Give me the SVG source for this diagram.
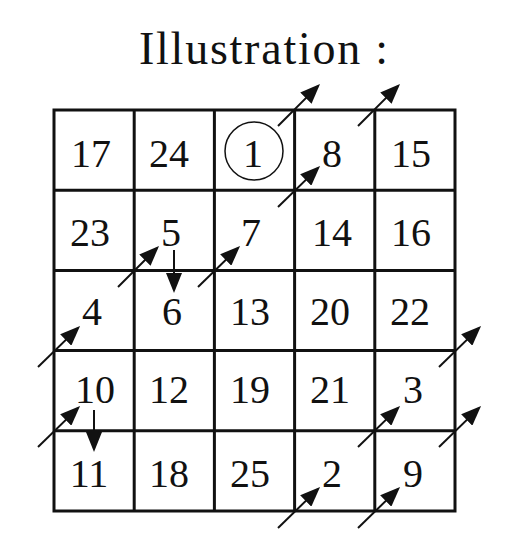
<svg xmlns="http://www.w3.org/2000/svg" width="518" height="556" viewBox="0 0 518 556">
<style>
  .grid { fill: none; stroke: #111; stroke-width: 3; }
  .num { font-family: "Liberation Serif", "Times New Roman", serif; font-size: 40px; fill: #111; text-anchor: middle; }
  .title { font-family: "Liberation Serif", "Times New Roman", serif; font-size: 46px; fill: #111; }
  .arr { stroke: #111; stroke-width: 2; fill: none; marker-end: url(#head); }
  .ring { fill: none; stroke: #111; stroke-width: 1.5; }
</style>
<defs>
  <marker id="head" markerUnits="userSpaceOnUse" markerWidth="20" markerHeight="16" viewBox="0 0 20 16" refX="17" refY="8" orient="auto">
    <path d="M0,0 L20,8 L0,16 z" fill="#111"/>
  </marker>
</defs>
<rect width="518" height="556" fill="#fff"/>
<text class="title" x="139" y="64" textLength="249" lengthAdjust="spacing">Illustration :</text>
<g id="grid">
  <rect class="grid" x="54" y="110" width="401" height="401"/>
  <line class="grid" x1="134.2" y1="110" x2="134.2" y2="511"/>
  <line class="grid" x1="214.4" y1="110" x2="214.4" y2="511"/>
  <line class="grid" x1="294.6" y1="110" x2="294.6" y2="511"/>
  <line class="grid" x1="374.8" y1="110" x2="374.8" y2="511"/>
  <line class="grid" x1="54" y1="190.2" x2="455" y2="190.2"/>
  <line class="grid" x1="54" y1="270.4" x2="455" y2="270.4"/>
  <line class="grid" x1="54" y1="350.6" x2="455" y2="350.6"/>
  <line class="grid" x1="54" y1="430.8" x2="455" y2="430.8"/>
</g>
<g id="row1">
  <g id="n17"><text class="num" x="91" y="167">17</text></g>
  <g id="n24"><text class="num" x="169" y="167">24</text></g>
  <g id="n1"><circle class="ring" cx="254" cy="151" r="29"/><text class="num" x="253" y="167">1</text></g>
  <g id="n8"><text class="num" x="332" y="167">8</text></g>
  <g id="n15"><text class="num" x="411" y="167">15</text></g>
</g>
<g id="row2">
  <g id="n23"><text class="num" x="90" y="246">23</text></g>
  <g id="n5"><text class="num" x="171" y="246">5</text></g>
  <g id="n7"><text class="num" x="251" y="246">7</text></g>
  <g id="n14"><text class="num" x="332" y="246">14</text></g>
  <g id="n16"><text class="num" x="411" y="246">16</text></g>
</g>
<g id="row3">
  <g id="n4"><text class="num" x="92" y="325">4</text></g>
  <g id="n6"><text class="num" x="172" y="325">6</text></g>
  <g id="n13"><text class="num" x="250" y="325">13</text></g>
  <g id="n20"><text class="num" x="330" y="325">20</text></g>
  <g id="n22"><text class="num" x="410" y="325">22</text></g>
</g>
<g id="row4">
  <g id="n10"><text class="num" x="95" y="403">10</text></g>
  <g id="n12"><text class="num" x="169" y="403">12</text></g>
  <g id="n19"><text class="num" x="250" y="403">19</text></g>
  <g id="n21"><text class="num" x="330" y="403">21</text></g>
  <g id="n3"><text class="num" x="413" y="403">3</text></g>
</g>
<g id="row5">
  <g id="n11"><text class="num" x="89" y="487">11</text></g>
  <g id="n18"><text class="num" x="169" y="487">18</text></g>
  <g id="n25"><text class="num" x="250" y="487">25</text></g>
  <g id="n2"><text class="num" x="332" y="487">2</text></g>
  <g id="n9"><text class="num" x="413" y="487">9</text></g>
</g>
<g id="connectors">
  <line class="arr" x1="278" y1="126" x2="317.9" y2="86.1"/>
  <line class="arr" x1="358" y1="126" x2="397.9" y2="86.1"/>
  <line class="arr" x1="278" y1="207" x2="317.9" y2="168.1"/>
  <line class="arr" x1="118" y1="287" x2="156.9" y2="248.1"/>
  <line class="arr" x1="198" y1="287" x2="237.9" y2="248.1"/>
  <line class="arr" x1="439" y1="367" x2="478.9" y2="328.1"/>
  <line class="arr" x1="38" y1="367" x2="77.9" y2="328.1"/>
  <line class="arr" x1="439" y1="447" x2="478.9" y2="408.1"/>
  <line class="arr" x1="38" y1="447" x2="77.9" y2="408.1"/>
  <line class="arr" x1="358" y1="447" x2="397.9" y2="408.1"/>
  <line class="arr" x1="278" y1="528" x2="317.9" y2="489.1"/>
  <line class="arr" x1="358" y1="528" x2="397.9" y2="489.1"/>
  <line class="arr" x1="174" y1="250" x2="174" y2="290"/>
  <line class="arr" x1="94" y1="410" x2="94" y2="449"/>
</g>
</svg>
